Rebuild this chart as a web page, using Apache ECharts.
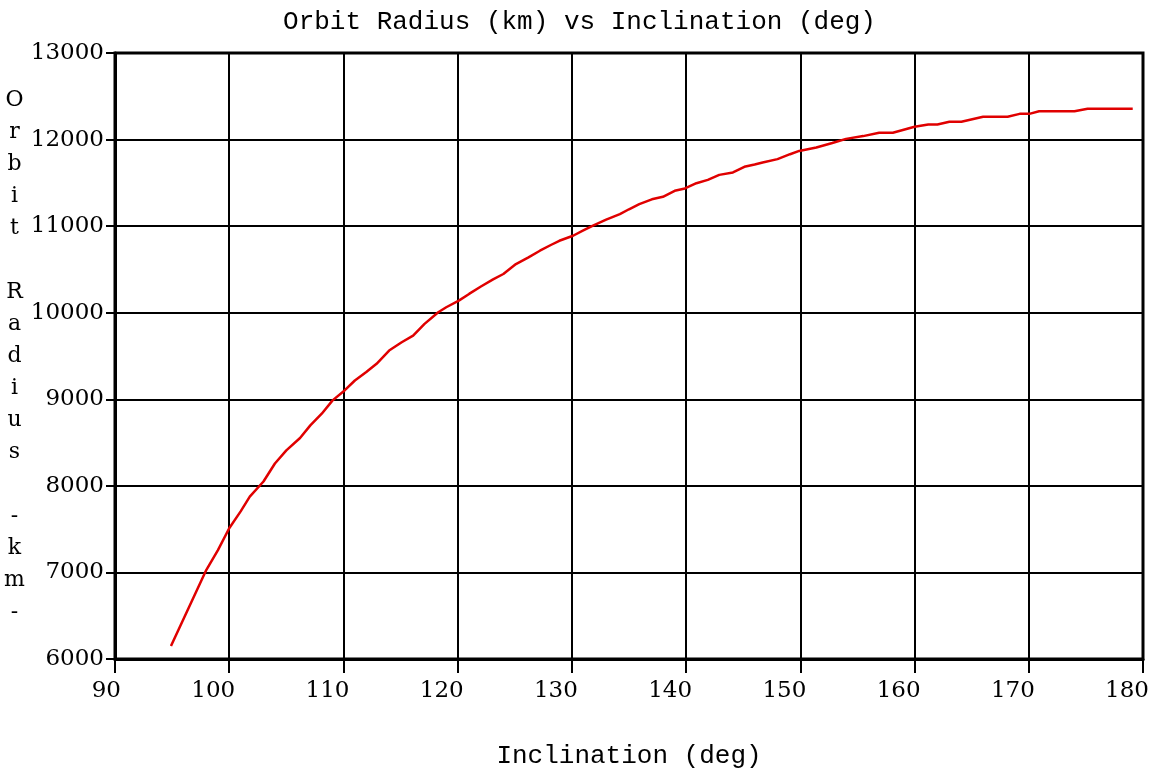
<!DOCTYPE html>
<html>
<head>
<meta charset="utf-8">
<script src="https://cdn.jsdelivr.net/npm/echarts@6/dist/echarts.min.js"></script>
<style>
html,body{margin:0;padding:0;background:#fff;}
#chart{width:1159px;height:774px;}
</style>
</head>
<body>
<div id="chart"></div>
<script>
const inclination = [94.9, 98.0, 99.0, 100.0, 101.0, 101.8, 103.0, 104.0, 105.0, 106.2, 107.1, 108.1, 109.05, 110.1, 111.0, 112.0, 112.9, 114.0, 115.1, 116.1, 117.1, 118.3, 119.0, 120.1, 121.0, 122.0, 123.1, 124.0, 125.1, 126.2, 127.2, 128.2, 128.9, 130.1, 131.0, 131.8, 133.0, 134.2, 135.0, 135.9, 137.0, 137.97, 139.0, 139.9, 140.9, 141.9, 142.9, 144.1, 145.1, 146.0, 146.7, 148.0, 149.1, 149.9, 151.4, 152.8, 154.0, 155.5, 156.9, 158.1, 160.0, 161.2, 162.0, 163.05, 164.1, 166.0, 168.15, 169.2, 170.05, 170.9, 174.0, 175.15, 179.1];
const radius = [6150, 7030, 7255, 7510, 7705, 7875, 8050, 8258, 8410, 8553, 8699, 8833, 8987, 9102, 9217, 9315, 9410, 9563, 9659, 9736, 9871, 10006, 10063, 10140, 10217, 10300, 10385, 10447, 10562, 10640, 10716, 10785, 10831, 10889, 10950, 11004, 11075, 11139, 11195, 11254, 11310, 11339, 11408, 11435, 11496, 11535, 11592, 11620, 11685, 11712, 11735, 11774, 11831, 11869, 11909, 11960, 12008, 12040, 12079, 12079, 12148, 12174, 12174, 12205, 12205, 12263, 12263, 12297, 12297, 12327, 12327, 12355, 12355];
const titleText = 'Orbit Radius (km) vs Inclination (deg)';
const xAxisTitle = 'Inclination (deg)';
const yAxisTitle = 'Orbit Radius -km-';

const chart = echarts.init(document.getElementById('chart'));
const monoFont = '"Liberation Mono", "DejaVu Sans Mono", monospace';
const serifFont = '"DejaVu Serif", "Liberation Serif", serif';
chart.setOption({
  animation: false,
  backgroundColor: '#fff',
  title: {
    text: titleText,
    left: 'center',
    top: 4,
    textStyle: { fontFamily: monoFont, fontSize: 26, fontWeight: 'normal', color: '#000' }
  },
  grid: {
    left: 115, right: 16, top: 53, bottom: 113,
    show: true, borderColor: '#000', borderWidth: 3, backgroundColor: 'transparent'
  },
  xAxis: {
    type: 'value', min: 90, max: 180, interval: 10,
    name: xAxisTitle, nameLocation: 'middle', nameGap: 97,
    nameTextStyle: { fontFamily: monoFont, fontSize: 26, color: '#000', verticalAlign: 'middle' },
    axisLine: { lineStyle: { color: '#000', width: 3 } },
    axisTick: { show: true, length: 14, lineStyle: { color: '#000', width: 2 } },
    axisLabel: { fontFamily: serifFont, fontSize: 23, color: '#000', margin: 21, align: 'right', padding: [0, -6, 0, 0] },
    splitLine: { show: true, lineStyle: { color: '#000', width: 2 } }
  },
  yAxis: {
    type: 'value', min: 6000, max: 13000, interval: 1000,
    name: yAxisTitle.split('').join('\n'), nameLocation: 'middle', nameGap: 97, nameRotate: 0,
    nameTextStyle: { fontFamily: serifFont, fontSize: 22, color: '#000', lineHeight: 32, align: 'center', verticalAlign: 'middle', padding: [4, 0, 0, 0] },
    axisLine: { show: true, lineStyle: { color: '#000', width: 3 } },
    axisTick: { show: true, length: 9, lineStyle: { color: '#000', width: 2 } },
    axisLabel: { fontFamily: serifFont, fontSize: 23, color: '#000', margin: 11, formatter: v => String(v), padding: [0, 0, 4, 0] },
    splitLine: { show: true, lineStyle: { color: '#000', width: 2 } }
  },
  series: [{
    type: 'line',
    data: inclination.map((x, i) => [x, radius[i]]),
    showSymbol: false,
    lineStyle: { color: '#e00000', width: 2.5 },
    z: 5
  }]
});
</script>
</body>
</html>
